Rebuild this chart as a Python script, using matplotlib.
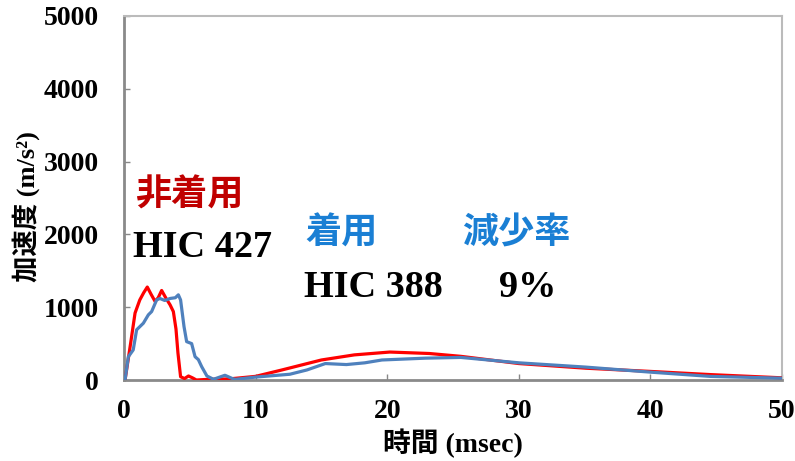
import matplotlib.pyplot as plt

# 時間 (msec) と加速度 (m/s2)
t_hi = [0.0, 0.08, 0.5, 0.84, 1.2, 1.5, 1.77, 2.05, 2.36, 2.6, 2.86, 3.2, 3.5, 3.75, 3.95, 4.1, 4.3, 4.6, 4.9, 5.2, 5.5, 6.5, 8.0, 10.0, 12.0, 15.0, 17.5, 20.2, 23.2, 25.6, 30.0, 35.1, 40.0, 44.6, 50.0]
a_hi = [0, 0, 500, 920, 1100, 1200, 1277, 1180, 1080, 1130, 1230, 1120, 1033, 940, 700, 370, 45, 20, 55, 30, 0, 10, 15, 50, 138, 275, 345, 384, 364, 325, 226, 162, 118, 74, 30]

t_chaku = [0.0, 0.08, 0.33, 0.7, 0.96, 1.47, 1.85, 2.1, 2.48, 2.73, 3.1, 3.5, 3.9, 4.13, 4.3, 4.56, 4.76, 5.14, 5.4, 5.65, 5.9, 6.3, 6.8, 7.67, 8.3, 8.5, 10.0, 12.6, 13.9, 15.3, 16.9, 18.3, 19.6, 22.9, 25.6, 30.0, 35.1, 40.0, 44.6, 50.0]
a_chaku = [0, 0, 320, 413, 690, 780, 895, 940, 1100, 1120, 1092, 1120, 1130, 1170, 1100, 734, 527, 500, 320, 280, 184, 55, 10, 65, 15, 10, 40, 79, 138, 226, 212, 236, 275, 300, 310, 236, 177, 108, 49, 25]

x_ticks = [0, 10, 20, 30, 40, 50]
y_ticks = [0, 1000, 2000, 3000, 4000, 5000]

serif = ['Liberation Serif', 'DejaVu Serif']
jp = ['Noto Sans CJK JP', 'DejaVu Sans']
# 欧文は Times 系、和文は Noto にフォールバック
mixed = ['Liberation Serif', 'Noto Sans CJK JP']

fig = plt.figure(figsize=(7.95, 4.61), dpi=100)
ax = fig.add_axes([124/795, 1 - 380/461, (782 - 124)/795, (380 - 16)/461])

ax.plot(t_hi, a_hi, color='#FF0000', lw=2.3, zorder=3)
ax.plot(t_chaku, a_chaku, color='#4F81BD', lw=2.3, zorder=4)

ax.set_xlim(0, 50)
ax.set_ylim(0, 5000)
ax.set_xticks(x_ticks)
ax.set_yticks(y_ticks)
ax.tick_params(direction='in', length=4, color='#888888', width=1, pad=14)
ax.tick_params(axis='y', pad=18)
for lab in ax.get_xticklabels() + ax.get_yticklabels():
    lab.set_fontfamily(serif)
    lab.set_fontweight('bold')
    lab.set_fontsize(20)

for side in ['left', 'bottom']:
    ax.spines[side].set_color('#8a8a8a')
    ax.spines[side].set_linewidth(2)
for side in ['top', 'right']:
    ax.spines[side].set_color('#bbbbbb')
    ax.spines[side].set_linewidth(1.5)

ax.set_xlabel('時間 (msec)', family=mixed, fontweight='bold', fontsize=20, labelpad=3)
fig.text(26/795, 1 - 207/461, '加速度 (m/s²)', rotation=90, ha='center', va='center',
         family=mixed, fontweight='bold', fontsize=19)

# 注記
fig.text(135/795, 1 - 195/461, '非着用', color='#C00000', family=jp, fontweight='bold', fontsize=26, va='center')
fig.text(133/795, 1 - 247/461, 'HIC 427', color='black', family=serif, fontweight='bold', fontsize=27.5, va='center')
fig.text(305/795, 1 - 233/461, '着用', color='#1A7FD4', family=jp, fontweight='bold', fontsize=26, va='center')
fig.text(462/795, 1 - 233/461, '減少率', color='#1A7FD4', family=jp, fontweight='bold', fontsize=26, va='center')
fig.text(304/795, 1 - 287/461, 'HIC 388', color='black', family=serif, fontweight='bold', fontsize=27.5, va='center')
fig.text(499/795, 1 - 287/461, '9%', color='black', family=serif, fontweight='bold', fontsize=27.5, va='center')

fig.savefig('out.png', dpi=100)
